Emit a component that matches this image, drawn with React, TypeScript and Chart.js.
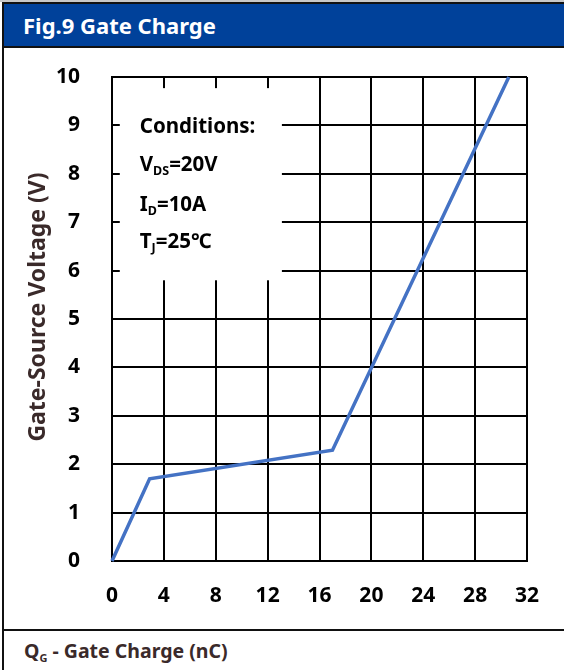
import React, { useEffect, useRef } from "react";
import { Chart, registerables } from "chart.js";

Chart.register(...registerables);

// ---- data ----
const gateChargeNC: number[] = [0, 2.9, 17.0, 30.6];
const gateVoltageV: number[] = [0, 1.7, 2.29, 10];
const xTickValues: number[] = [0, 4, 8, 12, 16, 20, 24, 28, 32];
const yTickValues: number[] = [0, 1, 2, 3, 4, 5, 6, 7, 8, 9, 10];
const conditionLines: { main: string; sub: string; rest: string }[] = [
  { main: "Conditions:", sub: "", rest: "" },
  { main: "V", sub: "DS", rest: "=20V" },
  { main: "I", sub: "D", rest: "=10A" },
  { main: "T", sub: "J", rest: "=25℃" },
];
// conditions box extent in data units
const boxX: number[] = [0.6, 13.1];
const boxY: number[] = [5.8, 9.77];

const FONT = "'Noto Sans', 'Open Sans', sans-serif";
const TITLE_BLUE = "#00419a";
const TEXT_DARK = "#3a2a2a";

const conditionsPlugin = {
  id: "conditionsBox",
  beforeDatasetsDraw(chart: any) {
    const { ctx, scales } = chart;
    const xs = scales.x;
    const ys = scales.y;
    const l = xs.getPixelForValue(boxX[0]);
    const r = xs.getPixelForValue(boxX[1]);
    const t = ys.getPixelForValue(boxY[1]);
    const b = ys.getPixelForValue(boxY[0]);
    ctx.save();
    ctx.fillStyle = "#ffffff";
    ctx.fillRect(l, t, r - l, b - t);
    ctx.fillStyle = "#000000";
    ctx.textBaseline = "middle";
    ctx.textAlign = "left";
    const x0 = l + 20;
    const offsets = [39, 77, 117, 154];
    conditionLines.forEach((ln, i) => {
      const y = t + offsets[i];
      ctx.font = `bold 20.5px ${FONT}`;
      let x = x0;
      ctx.fillText(ln.main, x, y);
      x += ctx.measureText(ln.main).width;
      if (ln.sub) {
        ctx.font = `bold 12.5px ${FONT}`;
        ctx.fillText(ln.sub, x, y + 6);
        x += ctx.measureText(ln.sub).width;
      }
      if (ln.rest) {
        ctx.font = `bold 20.5px ${FONT}`;
        ctx.fillText(ln.rest, x, y);
      }
    });
    ctx.restore();
  },
};

const yTitlePlugin = {
  id: "yTitle",
  afterDraw(chart: any) {
    const { ctx } = chart;
    ctx.save();
    ctx.translate(33, 258);
    ctx.rotate(-Math.PI / 2);
    ctx.font = `bold 23px ${FONT}`;
    ctx.fillStyle = TEXT_DARK;
    ctx.textAlign = "center";
    ctx.textBaseline = "middle";
    ctx.fillText("Gate-Source Voltage (V)", 0, 0);
    ctx.restore();
  },
};

function GateChargeChart() {
  const ref = useRef<HTMLCanvasElement | null>(null);
  useEffect(() => {
    if (!ref.current) return;
    const chart = new Chart(ref.current, {
      type: "line",
      data: {
        datasets: [
          {
            data: gateChargeNC.map((x, i) => ({ x, y: gateVoltageV[i] })),
            borderColor: "#4472c4",
            borderWidth: 3.5,
            pointRadius: 0,
            tension: 0,
            fill: false,
            clip: false as any,
          },
        ],
      },
      options: {
        animation: false,
        responsive: false,
        maintainAspectRatio: false,
        layout: { padding: { top: 28, right: 37, left: 0, bottom: 0 } },
        plugins: {
          legend: { display: false },
          tooltip: { enabled: false },
          title: { display: false },
        },
        scales: {
          x: {
            type: "linear",
            min: 0,
            max: 32,
            afterBuildTicks: (s: any) => {
              s.ticks = xTickValues.map((v) => ({ value: v }));
            },
            afterFit: (s: any) => {
              s.height = 69;
              s.paddingLeft = 0;
              s.paddingRight = 0;
            },
            grid: { color: "#000", lineWidth: 2, drawTicks: false },
            border: { color: "#000", width: 2 },
            ticks: {
              color: "#000",
              padding: 22,
              font: { family: FONT, size: 21, weight: "bold" },
            },
          },
          y: {
            type: "linear",
            min: 0,
            max: 10,
            afterBuildTicks: (s: any) => {
              s.ticks = yTickValues.map((v) => ({ value: v }));
            },
            afterFit: (s: any) => {
              s.width = 107;
              s.paddingTop = 0;
              s.paddingBottom = 0;
            },
            grid: { color: "#000", lineWidth: 2, drawTicks: false },
            border: { color: "#000", width: 2 },
            ticks: {
              color: "#000",
              padding: 32,
              font: { family: FONT, size: 21, weight: "bold" },
            },
          },
        },
      } as any,
      plugins: [conditionsPlugin, yTitlePlugin],
    });
    return () => chart.destroy();
  }, []);
  return (
    <canvas
      ref={ref}
      width={559}
      height={581}
      style={{ position: "absolute", left: 5, top: 49, width: 559, height: 581 }}
    />
  );
}

export default function App() {
  return (
    <div
      style={{
        position: "fixed",
        left: 0,
        top: 0,
        width: 564,
        height: 670,
        background: "#fff",
        overflow: "hidden",
        fontFamily: FONT,
      }}
    >
      <div style={{ position: "absolute", left: 0, top: 0, width: 564, height: 2, background: "#c8c8c8" }} />
      <div style={{ position: "absolute", left: 2, top: 2, width: 2, height: 668, background: "#111" }} />
      <div style={{ position: "absolute", left: 2, top: 2, width: 562, height: 2, background: "#111" }} />
      <div
        style={{
          position: "absolute",
          left: 4,
          top: 4,
          width: 560,
          height: 42,
          background: TITLE_BLUE,
          color: "#fff",
          fontWeight: "bold",
          fontSize: 22,
          lineHeight: "42px",
          paddingLeft: 19,
          boxSizing: "border-box",
        }}
      >
        Fig.9 Gate Charge
      </div>
      <div style={{ position: "absolute", left: 2, top: 46, width: 562, height: 2, background: "#111" }} />
      <GateChargeChart />
      <div style={{ position: "absolute", left: 2, top: 629, width: 562, height: 2, background: "#111" }} />
      <div
        style={{
          position: "absolute",
          left: 24,
          top: 638,
          fontWeight: "bold",
          fontSize: 19.5,
          color: TEXT_DARK,
          whiteSpace: "nowrap",
          lineHeight: "26px",
        }}
      >
        Q<sub style={{ fontSize: 11, verticalAlign: "-4px" }}>G</sub> - Gate Charge (nC)
      </div>
    </div>
  );
}
